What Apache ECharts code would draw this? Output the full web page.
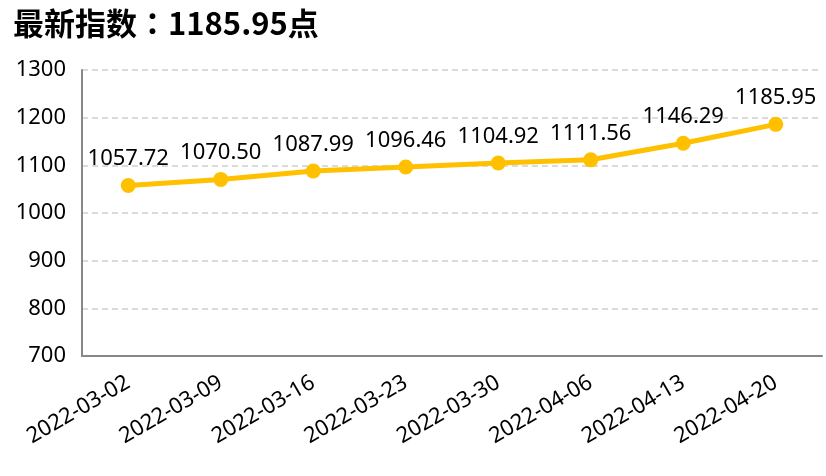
<!DOCTYPE html>
<html><head><meta charset="utf-8">
<script src="https://cdn.jsdelivr.net/npm/echarts@6/dist/echarts.min.js"></script>
<style>html,body{margin:0;padding:0;background:#fff}#c{width:826px;height:476px}</style>
</head><body><div id="c"></div>
<script>
var titleText = '最新指数：1185.95点';
var categories = ['2022-03-02','2022-03-09','2022-03-16','2022-03-23','2022-03-30','2022-04-06','2022-04-13','2022-04-20'];
var values = [1057.72,1070.50,1087.99,1096.46,1104.92,1111.56,1146.29,1185.95];
var yTicks = [700,800,900,1000,1100,1200,1300];

var chart = echarts.init(document.getElementById('c'));
chart.setOption({
  animation:false,
  title:{text:titleText,left:8,top:3,textStyle:{fontFamily:'Noto Sans CJK TC',fontSize:31,fontWeight:'bold',color:'#000'}},
  grid:{left:82,right:4,top:70,bottom:120},
  xAxis:{type:'category',data:categories,boundaryGap:true,
    axisLine:{lineStyle:{color:'#888',width:2}},axisTick:{show:false},
    axisLabel:{rotate:30,fontFamily:'Noto Sans',fontSize:22,color:'#000',margin:25,interval:0}},
  yAxis:{type:'value',min:yTicks[0],max:yTicks[yTicks.length-1],interval:100,
    axisLine:{show:true,lineStyle:{color:'#888',width:2}},axisTick:{show:false},
    axisLabel:{fontFamily:'Noto Sans',fontSize:22,color:'#000',margin:16,formatter:function(v){return String(v);}},
    splitLine:{lineStyle:{color:'#d0d0d0',type:[6,4],width:1.5}}},
  series:[{type:'line',data:values,symbol:'circle',symbolSize:15,
    lineStyle:{color:'#FFC000',width:5},itemStyle:{color:'#FFC000'},
    label:{show:true,position:'top',distance:8,fontFamily:'Noto Sans',fontSize:22,color:'#000',
      formatter:function(p){return p.value.toFixed(2);}}}]
});
</script></body></html>
